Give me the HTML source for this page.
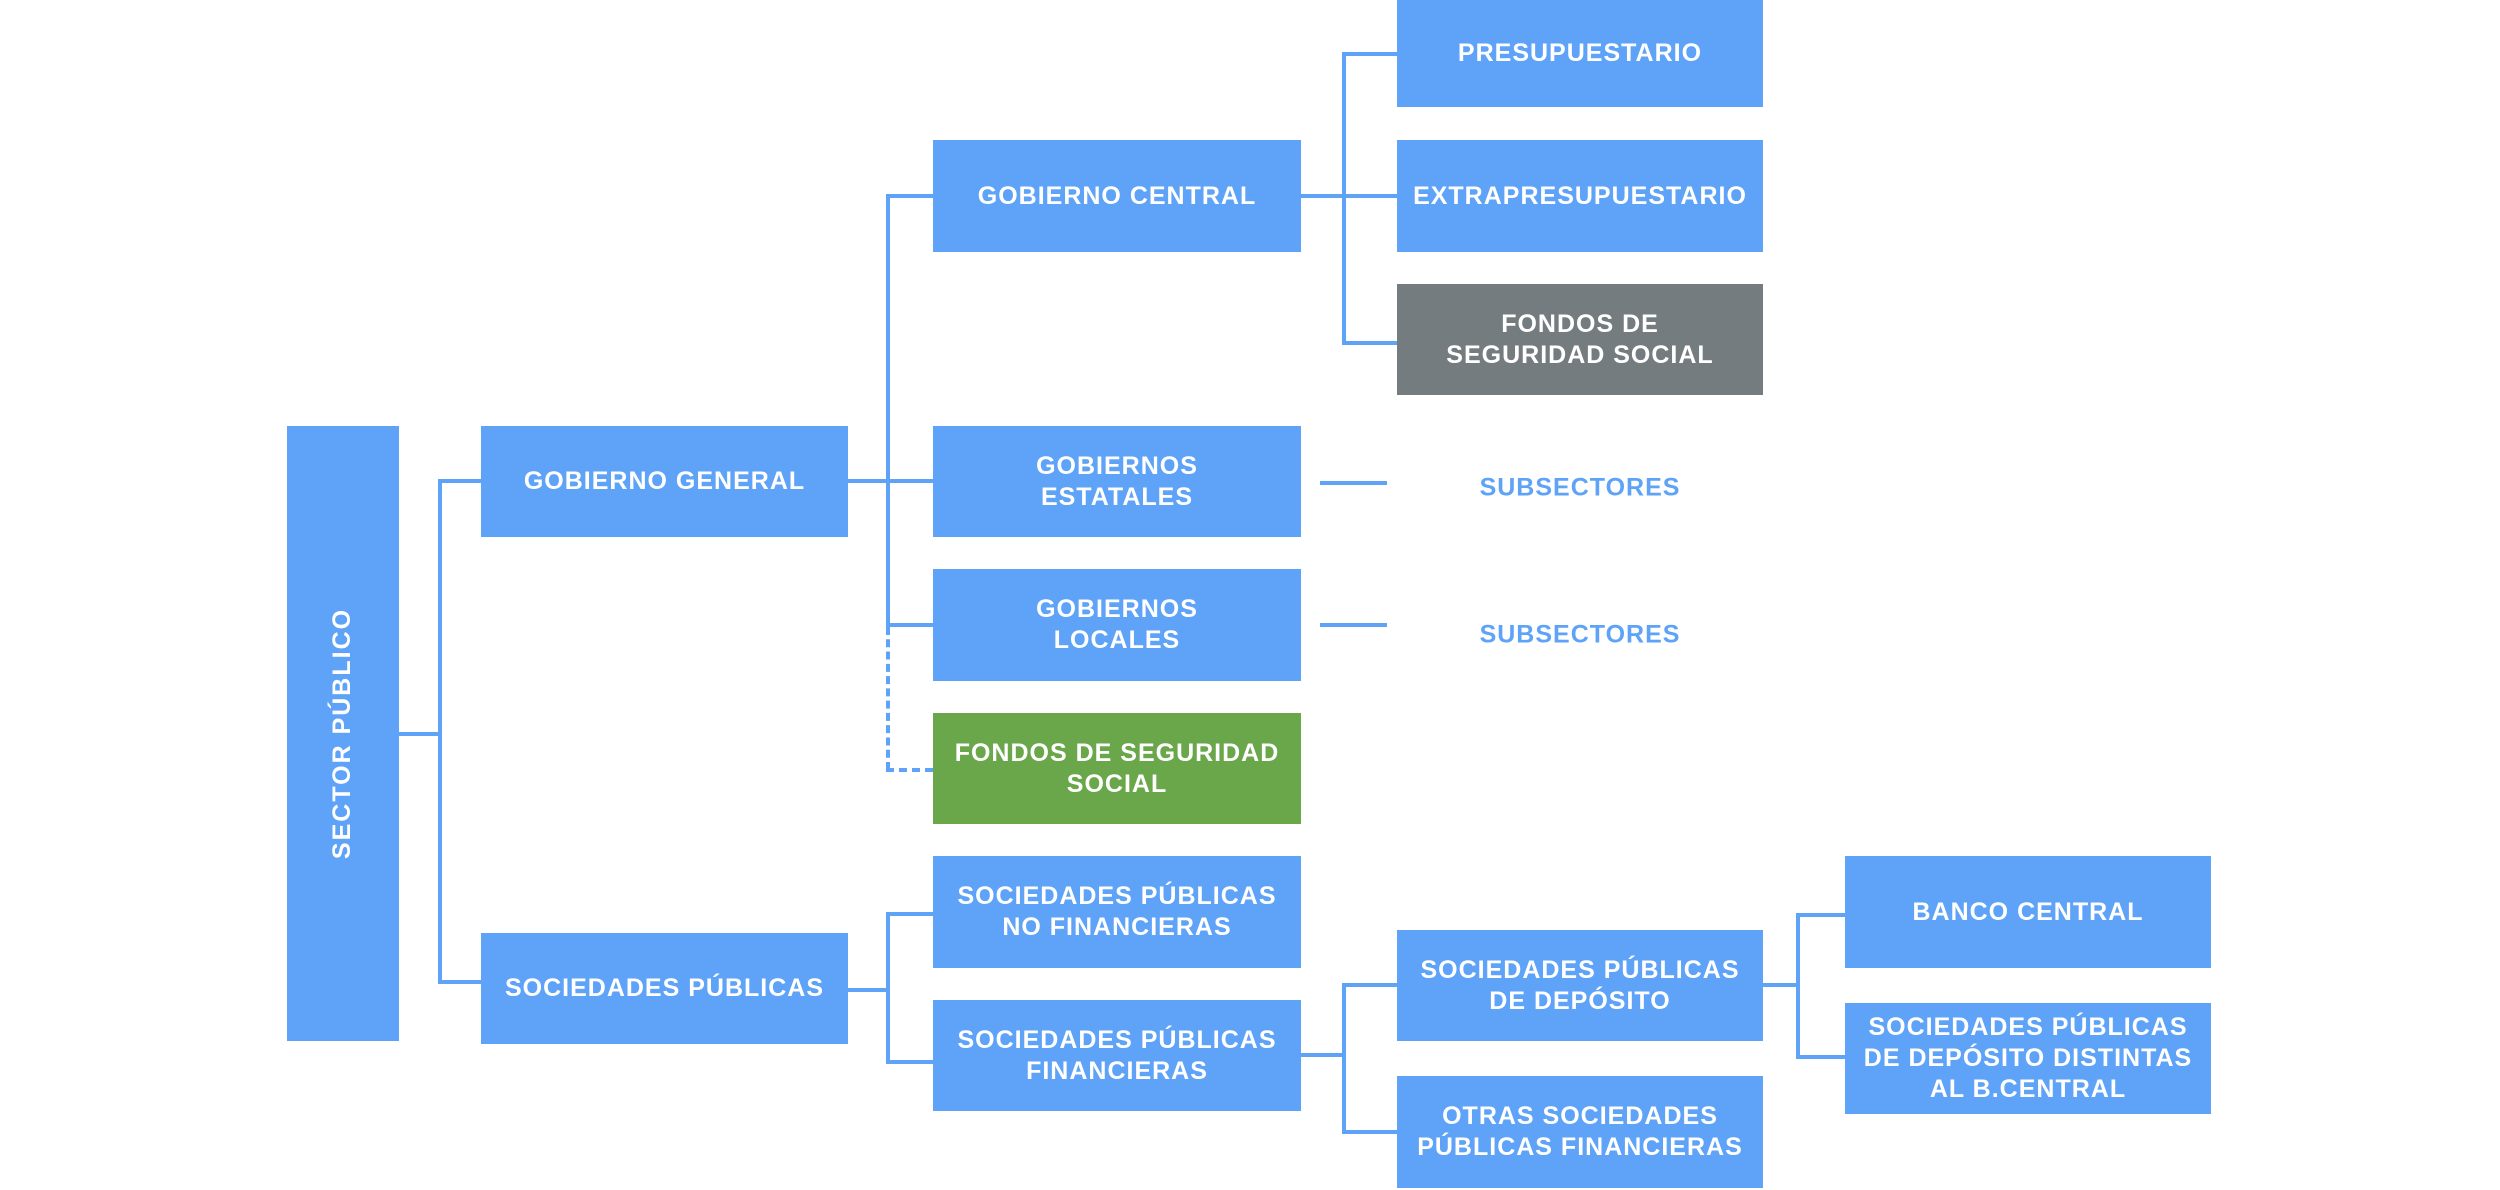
<!DOCTYPE html>
<html><head><meta charset="utf-8"><style>
body{margin:0;width:2500px;height:1190px;background:#fff;position:relative;overflow:hidden;font-family:"Liberation Sans",sans-serif}
.b{position:absolute;background:#5ea3f7;color:#fff;font-weight:bold;font-size:25px;letter-spacing:1px;display:flex;align-items:center;justify-content:center;text-align:center;line-height:31px}
.g{background:#757c80}.gr{background:#6aa64a}
.l{position:absolute;background:#5ea3f7}
.t{position:absolute;color:#5ea3f7;font-weight:bold;font-size:25px;letter-spacing:1px;transform:translate(-50%,-50%)}
</style></head><body>
<div class="b" style="left:287px;top:426px;width:112px;height:615px"><span style="transform:rotate(-90deg);white-space:nowrap;letter-spacing:2px">SECTOR PÚBLICO</span></div>
<div class="b" style="left:481px;top:426px;width:367px;height:111px">GOBIERNO GENERAL</div>
<div class="b" style="left:481px;top:933px;width:367px;height:111px">SOCIEDADES PÚBLICAS</div>
<div class="b" style="left:933px;top:140px;width:368px;height:112px">GOBIERNO CENTRAL</div>
<div class="b" style="left:933px;top:426px;width:368px;height:111px">GOBIERNOS<br>ESTATALES</div>
<div class="b" style="left:933px;top:569px;width:368px;height:112px">GOBIERNOS<br>LOCALES</div>
<div class="b gr" style="left:933px;top:713px;width:368px;height:111px">FONDOS DE SEGURIDAD<br>SOCIAL</div>
<div class="b" style="left:933px;top:856px;width:368px;height:112px">SOCIEDADES PÚBLICAS<br>NO FINANCIERAS</div>
<div class="b" style="left:933px;top:1000px;width:368px;height:111px">SOCIEDADES PÚBLICAS<br>FINANCIERAS</div>
<div class="b" style="left:1397px;top:0px;width:366px;height:107px">PRESUPUESTARIO</div>
<div class="b" style="left:1397px;top:140px;width:366px;height:112px">EXTRAPRESUPUESTARIO</div>
<div class="b g" style="left:1397px;top:284px;width:366px;height:111px">FONDOS DE<br>SEGURIDAD SOCIAL</div>
<div class="b" style="left:1397px;top:930px;width:366px;height:111px">SOCIEDADES PÚBLICAS<br>DE DEPÓSITO</div>
<div class="b" style="left:1397px;top:1076px;width:366px;height:112px">OTRAS SOCIEDADES<br>PÚBLICAS FINANCIERAS</div>
<div class="b" style="left:1845px;top:856px;width:366px;height:112px">BANCO CENTRAL</div>
<div class="b" style="left:1845px;top:1003px;width:366px;height:111px">SOCIEDADES PÚBLICAS<br>DE DEPÓSITO DISTINTAS<br>AL B.CENTRAL</div>
<div class="t" style="left:1580px;top:488px">SUBSECTORES</div>
<div class="t" style="left:1580px;top:635px">SUBSECTORES</div>
<!-- connectors -->
<div class="l" style="left:399px;top:732px;width:43px;height:4px"></div>
<div class="l" style="left:438px;top:479px;width:4px;height:505px"></div>
<div class="l" style="left:438px;top:479px;width:43px;height:4px"></div>
<div class="l" style="left:438px;top:980px;width:43px;height:4px"></div>
<div class="l" style="left:848px;top:479px;width:87px;height:4px"></div>
<div class="l" style="left:886px;top:194px;width:4px;height:433px"></div>
<div class="l" style="left:886px;top:194px;width:47px;height:4px"></div>
<div class="l" style="left:886px;top:623px;width:47px;height:4px"></div>
<div style="position:absolute;left:886px;top:627px;width:0;height:143px;border-left:4px dashed #5ea3f7"></div>
<div style="position:absolute;left:886px;top:768px;width:47px;height:0;border-top:4px dashed #5ea3f7"></div>
<div class="l" style="left:1301px;top:194px;width:45px;height:4px"></div>
<div class="l" style="left:1342px;top:52px;width:4px;height:293px"></div>
<div class="l" style="left:1342px;top:52px;width:55px;height:4px"></div>
<div class="l" style="left:1342px;top:194px;width:55px;height:4px"></div>
<div class="l" style="left:1342px;top:341px;width:55px;height:4px"></div>
<div class="l" style="left:1320px;top:481px;width:67px;height:4px"></div>
<div class="l" style="left:1320px;top:623px;width:67px;height:4px"></div>
<div class="l" style="left:848px;top:988px;width:42px;height:4px"></div>
<div class="l" style="left:886px;top:912px;width:4px;height:152px"></div>
<div class="l" style="left:886px;top:912px;width:47px;height:4px"></div>
<div class="l" style="left:886px;top:1060px;width:47px;height:4px"></div>
<div class="l" style="left:1301px;top:1053px;width:45px;height:4px"></div>
<div class="l" style="left:1342px;top:983px;width:4px;height:151px"></div>
<div class="l" style="left:1342px;top:983px;width:55px;height:4px"></div>
<div class="l" style="left:1342px;top:1130px;width:55px;height:4px"></div>
<div class="l" style="left:1763px;top:983px;width:37px;height:4px"></div>
<div class="l" style="left:1796px;top:913px;width:4px;height:146px"></div>
<div class="l" style="left:1796px;top:913px;width:49px;height:4px"></div>
<div class="l" style="left:1796px;top:1055px;width:49px;height:4px"></div>
</body></html>
